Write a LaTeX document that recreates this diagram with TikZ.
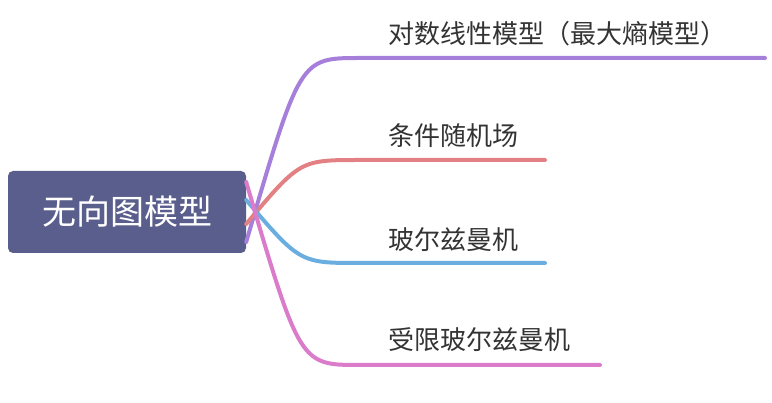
\documentclass[tikz,border=0pt]{standalone}
\usepackage{fontspec}
\setmainfont{Noto Sans CJK SC}
\usetikzlibrary{positioning}
\definecolor{rootblue}{HTML}{5A5E8C}
\definecolor{brpurple}{HTML}{A57FD9}
\definecolor{brred}{HTML}{E38083}
\definecolor{brblue}{HTML}{6AAEE0}
\definecolor{brpink}{HTML}{DB7CCB}
\definecolor{txtgray}{HTML}{333333}

\begin{document}
\begin{tikzpicture}[x=1pt,y=-1pt]
\tikzset{rootbox/.style={fill=rootblue,rounded corners=5pt,text=white,
                         minimum width=238pt,minimum height=82pt,inner sep=0pt,
                         font=\fontsize{34}{40}\selectfont},
         leaf/.style={anchor=south west,text=txtgray,inner sep=0pt,
                      font=\fontsize{26}{30}\selectfont},
         branch/.style={line width=4pt,line cap=round}}
\useasboundingbox (0,0) rectangle (772,403);
\node[rootbox] (root) at (127,212) {无向图模型};
% leaf texts
\node[leaf] (l1) at (388,46) {对数线性模型（最大熵模型）};
\node[leaf] (l2) at (388,148) {条件随机场};
\node[leaf] (l3) at (388,252) {玻尔兹曼机};
\node[leaf] (l4) at (388,352) {受限玻尔兹曼机};
% line ends
\coordinate (e1) at (765,58);
\coordinate (e2) at (545,160);
\coordinate (e3) at (545,263);
\coordinate (e4) at (600,365);
\draw[branch,brpurple] ([yshift=-30pt]root.east) .. controls (300,58) .. (360,58) -- (e1);
\draw[branch,brred] ([yshift=-12pt]root.east) .. controls (300,160) .. (360,160) -- (e2);
\draw[branch,brblue] ([yshift=12pt]root.east) .. controls (300,263) .. (360,263) -- (e3);
\draw[branch,brpink] ([yshift=30pt]root.east) .. controls (300,365) .. (360,365) -- (e4);
\end{tikzpicture}
\end{document}
